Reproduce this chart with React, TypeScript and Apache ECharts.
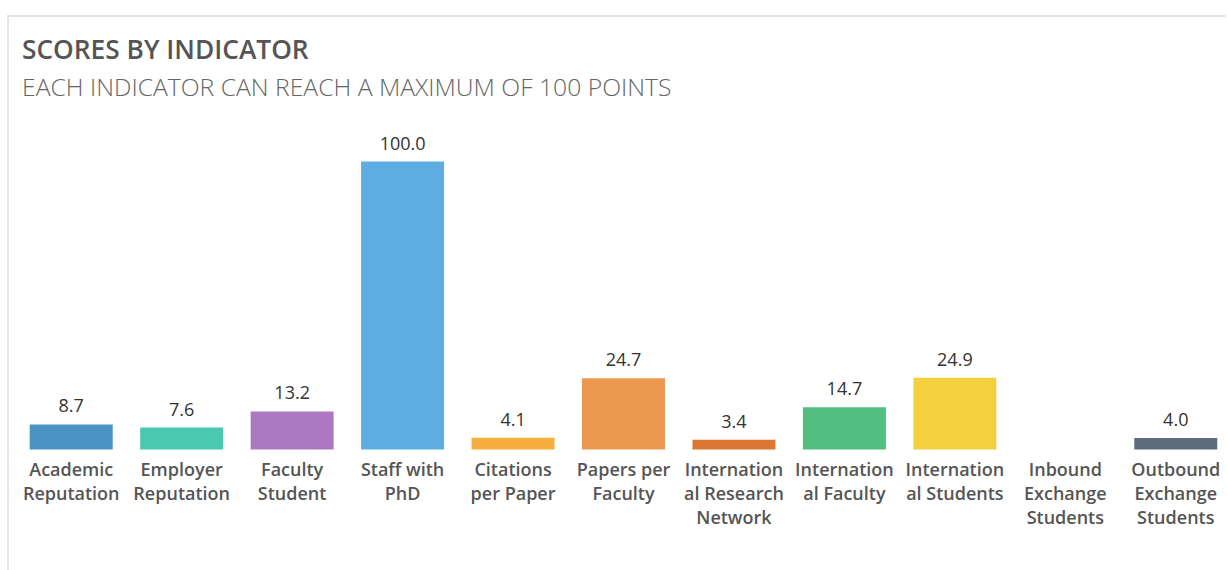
import React, { useEffect, useRef } from "react";
import * as echarts from "echarts";

const categories = [
  "Academic\nReputation",
  "Employer\nReputation",
  "Faculty\nStudent",
  "Staff with\nPhD",
  "Citations\nper Paper",
  "Papers per\nFaculty",
  "Internation\nal Research\nNetwork",
  "Internation\nal Faculty",
  "Internation\nal Students",
  "Inbound\nExchange\nStudents",
  "Outbound\nExchange\nStudents",
];
const scores: (number | null)[] = [8.7, 7.6, 13.2, 100.0, 4.1, 24.7, 3.4, 14.7, 24.9, null, 4.0];
const barColors = [
  "#4a94c4",
  "#48c9b0",
  "#ad78c2",
  "#5dade2",
  "#f5ae3d",
  "#eb984e",
  "#dc7633",
  "#52be80",
  "#f4d03f",
  "#999999",
  "#5d6d7e",
];
const titleText = "SCORES BY INDICATOR";
const subtitleText = "EACH INDICATOR CAN REACH A MAXIMUM OF 100 POINTS";
const yMax = 100;

export default function App() {
  const ref = useRef<HTMLDivElement>(null);
  useEffect(() => {
    if (!ref.current) return;
    const chart = echarts.init(ref.current, null, { renderer: "svg" });
    chart.setOption({
      animation: false,
      backgroundColor: "#ffffff",
      textStyle: { fontFamily: "'Open Sans', sans-serif" },
      title: [
        {
          text: titleText,
          left: 22,
          top: 36,
          padding: 0,
          textStyle: { fontSize: 26.3, fontWeight: 600, color: "#555555", fontFamily: "'Open Sans', sans-serif" },
        },
        {
          text: subtitleText,
          left: 22,
          top: 74,
          padding: 0,
          textStyle: { fontSize: 24.7, fontWeight: 300, color: "#666666", fontFamily: "'Open Sans', sans-serif" },
        },
      ],
      graphic: [
        {
          type: "polyline",
          shape: { points: [[8, 570], [8, 16], [1226, 16]] },
          style: { stroke: "#e4e4e4", lineWidth: 2, fill: null },
          silent: true,
        },
      ],
      grid: { left: 16, width: 1215, top: 161.5, height: 288, containLabel: false },
      xAxis: {
        type: "category",
        data: categories,
        axisLine: { show: false },
        axisTick: { show: false },
        axisLabel: {
          interval: 0,
          margin: 7,
          fontSize: 18,
          lineHeight: 24,
          fontWeight: 600,
          color: "#555555",
          fontFamily: "'Open Sans', sans-serif",
        },
      },
      yAxis: {
        type: "value",
        min: 0,
        max: yMax,
        show: false,
        splitLine: { show: false },
      },
      series: [
        {
          type: "bar",
          barWidth: 83,
          data: scores.map((v, i) => ({
            value: v === null ? "-" : v,
            itemStyle: { color: barColors[i] },
          })),
          label: {
            show: true,
            position: "top",
            distance: 10,
            fontSize: 18,
            color: "#333333",
            fontFamily: "'Open Sans', sans-serif",
            formatter: (p: any) => (typeof p.value === "number" ? p.value.toFixed(1) : ""),
          },
        },
      ],
    });
    return () => chart.dispose();
  }, []);
  return (
    <div style={{ position: "absolute", left: 0, top: 0, width: 1227, height: 570, overflow: "hidden" }}>
      <div ref={ref} style={{ width: 1245, height: 570 }} />
    </div>
  );
}
